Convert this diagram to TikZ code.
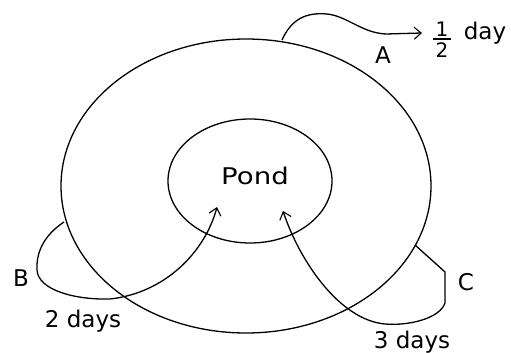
\documentclass[tikz,border=0pt]{standalone}
\usepackage{fontspec}
\newfontfamily\lbl{DejaVu Sans}
\usetikzlibrary{shapes.geometric,arrows.meta}
\begin{document}
\begin{tikzpicture}[x=1pt,y=-1pt,
  ring/.style={draw,ellipse,line width=1.3pt,inner sep=0pt},
  path/.style={line width=1.3pt,line join=round},
  tip/.style={-{Straight Barb[length=7pt,width=12pt,line width=1.1pt]}},
  txt/.style={font=\lbl\fontsize{23}{26}\selectfont,inner sep=0pt},
  frac/.style={font=\lbl\fontsize{20}{22}\selectfont,inner sep=0pt}]
\useasboundingbox (0,0) rectangle (511,353);
\fill[white] (0,0) rectangle (511,353);
\node[ring,minimum width=370pt,minimum height=294pt] (outer) at (246,186) {};
\node[ring,minimum width=164pt,minimum height=124pt] (pond) at (250,181) {};
\node[txt] (pondlbl) at (255,176) {\scalebox{1.2}[1]{Pond}};
% A
\coordinate (A0) at (282,40);
\coordinate (Atip) at (422,33);
\draw[path,tip] (A0) .. controls (291,20) and (305,12) .. (327,14)
  .. controls (347,16) and (362,33) .. (386,34) -- (Atip);
\node[txt] (Albl) at (383,55) {A};
\node[frac] (one) at (442,29) {1};
\node[frac] (two) at (442,50) {2};
\draw[line width=1.2pt] (433,39) -- (451,39);
\node[txt] (day) at (485,33) {day};
% B
\coordinate (B0) at (64,222);
\coordinate (Btip) at (217,207);
\draw[path,tip] (B0) .. controls (46,234) and (36,250) .. (37,270)
  .. controls (38,290) and (75,300) .. (110,299)
  .. controls (165,293) and (205,252) .. (Btip);
\node[txt] (Blbl) at (21,278) {B};
\node[txt] (Bdays) at (83,321) {2 days};
% C
\coordinate (C0) at (415,245);
\coordinate (Ctip) at (283,211);
\draw[path,tip] (C0) -- (445,272) -- (445,303)
  .. controls (440,318) and (410,326) .. (385,324)
  .. controls (340,320) and (300,262) .. (Ctip);
\node[txt] (Clbl) at (466,282) {C};
\node[txt] (Cdays) at (412,342) {3 days};
\end{tikzpicture}
\end{document}
